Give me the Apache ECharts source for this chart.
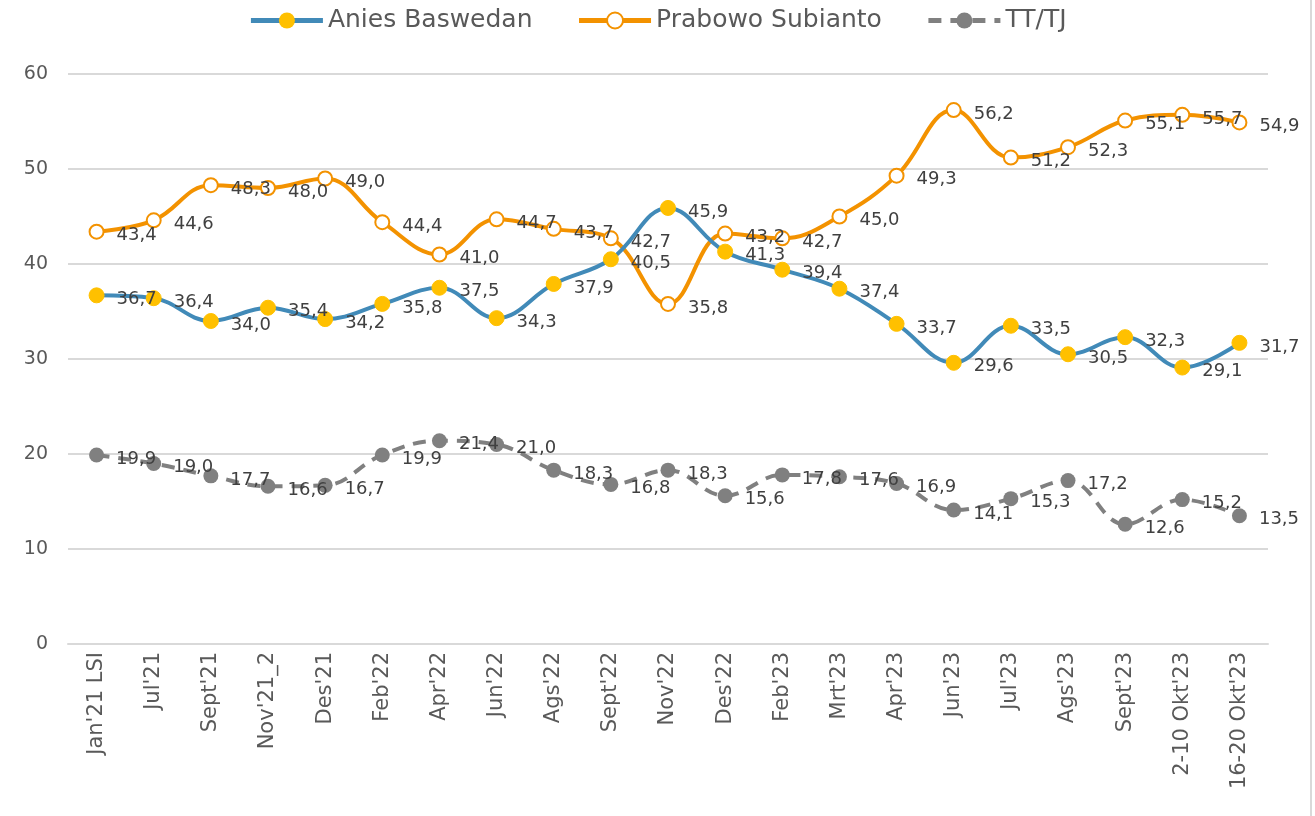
<!DOCTYPE html>
<html>
<head>
<meta charset="utf-8">
<script src="https://cdn.jsdelivr.net/npm/echarts@6/dist/echarts.min.js"></script>
<style>
  html, body { margin: 0; padding: 0; background: #fff; }
  #chart { width: 1315px; height: 816px; }
</style>
</head>
<body>
<div id="chart"></div>
<script>
const categories = ["Jan'21 LSI", "Jul'21", "Sept'21", "Nov'21_2", "Des'21", "Feb'22", "Apr'22", "Jun'22", "Ags'22", "Sept'22", "Nov'22", "Des'22", "Feb'23", "Mrt'23", "Apr'23", "Jun'23", "Jul'23", "Ags'23", "Sept'23", "2-10 Okt'23", "16-20 Okt'23"];
const anies = [36.7, 36.4, 34.0, 35.4, 34.2, 35.8, 37.5, 34.3, 37.9, 40.5, 45.9, 41.3, 39.4, 37.4, 33.7, 29.6, 33.5, 30.5, 32.3, 29.1, 31.7];
const prabowo = [43.4, 44.6, 48.3, 48.0, 49.0, 44.4, 41.0, 44.7, 43.7, 42.7, 35.8, 43.2, 42.7, 45.0, 49.3, 56.2, 51.2, 52.3, 55.1, 55.7, 54.9];
const tttj = [19.9, 19.0, 17.7, 16.6, 16.7, 19.9, 21.4, 21.0, 18.3, 16.8, 18.3, 15.6, 17.8, 17.6, 16.9, 14.1, 15.3, 17.2, 12.6, 15.2, 13.5];
const yTicks = [0, 10, 20, 30, 40, 50, 60];

const font = '"DejaVu Sans", sans-serif';
const chart = echarts.init(document.getElementById('chart'), null, { renderer: 'canvas' });

// data labels sit to the right of each point, Excel style with decimal comma
const label = {
  show: true,
  position: 'right',
  distance: 12,
  offset: [0, 4],
  color: '#404040',
  fontSize: 18,
  fontFamily: font,
  formatter: (p) => p.value.toFixed(1).replace('.', ',')
};

chart.setOption({
  animation: false,
  textStyle: { fontFamily: font },
  legend: {
    top: 3,
    left: 'center',
    itemWidth: 72,
    itemHeight: 20,
    itemGap: 44,
    lineStyle: { width: 5 },
    textStyle: { fontSize: 25, color: '#595959', fontFamily: font },
    data: ['Anies Baswedan', 'Prabowo Subianto', 'TT/TJ']
  },
  grid: { left: 68, right: 47, top: 74, bottom: 172 },
  xAxis: {
    type: 'category',
    data: categories,
    boundaryGap: true,
    axisLine: { lineStyle: { color: '#d9d9d9', width: 2 } },
    axisTick: { show: false },
    axisLabel: { rotate: 90, fontSize: 21, color: '#595959', fontFamily: font, margin: 8, interval: 0 }
  },
  yAxis: {
    type: 'value',
    min: yTicks[0],
    max: yTicks[yTicks.length - 1],
    interval: 10,
    axisLine: { show: false },
    axisTick: { show: false },
    axisLabel: { fontSize: 19, color: '#595959', fontFamily: font, margin: 20 },
    splitLine: { lineStyle: { color: '#d9d9d9', width: 2 } }
  },
  series: [
    {
      name: 'Anies Baswedan',
      type: 'line',
      data: anies,
      smooth: 0.4,
      symbol: 'circle',
      symbolSize: 15,
      lineStyle: { color: '#418AB8', width: 4 },
      itemStyle: { color: '#FFC000', borderColor: '#FFC000' },
      label: label,
      z: 3
    },
    {
      name: 'Prabowo Subianto',
      type: 'line',
      data: prabowo,
      smooth: 0.4,
      symbol: 'circle',
      symbolSize: 14,
      showAllSymbol: true,
      lineStyle: { color: '#F39200', width: 4 },
      itemStyle: { color: '#ffffff', borderColor: '#F39200', borderWidth: 2 },
      label: label,
      z: 2
    },
    {
      name: 'TT/TJ',
      type: 'line',
      data: tttj,
      smooth: 0.4,
      symbol: 'circle',
      symbolSize: 15,
      lineStyle: { color: '#808080', width: 4, type: [13, 9] },
      itemStyle: { color: '#808080' },
      label: label,
      z: 1
    }
  ],
  graphic: [{
    type: 'line',
    shape: { x1: 1311, y1: 0, x2: 1311, y2: 816 },
    style: { stroke: '#d9d9d9', lineWidth: 2 }
  }]
});
</script>
</body>
</html>
